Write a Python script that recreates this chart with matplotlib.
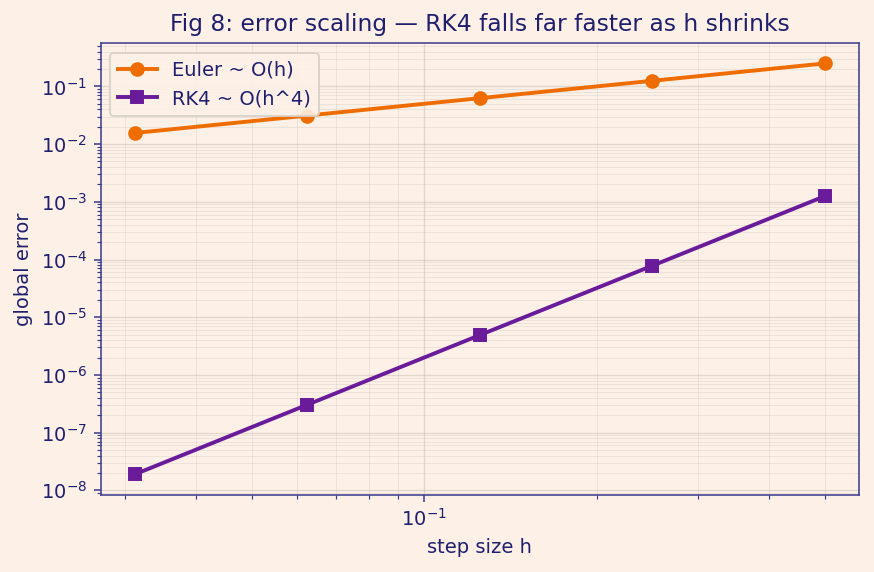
import matplotlib
matplotlib.use("Agg")
import matplotlib.pyplot as plt

# step sizes and global errors
h = [0.5, 0.25, 0.125, 0.0625, 0.03125]
euler_err = [0.25, 0.125, 0.0625, 0.03125, 0.0156]
rk4_err = [1.25e-3, 7.8e-5, 4.9e-6, 3.05e-7, 1.9e-8]

bg = "#fdf1e7"
ink = "#1f1f6e"
spine = "#3b3b8c"

fig, ax = plt.subplots(figsize=(874 / 140, 572 / 140), dpi=140)
fig.patch.set_facecolor(bg)
ax.set_facecolor(bg)

ax.plot(h, euler_err, color="#ef6c00", marker="o", markersize=6.5, linewidth=2, label="Euler ~ O(h)")
ax.plot(h, rk4_err, color="#6a1b9a", marker="s", markersize=6.5, linewidth=2, label="RK4 ~ O(h^4)")

ax.set_xscale("log")
ax.set_yscale("log")
ax.grid(True, which="major", color="#b8b0a8", alpha=0.4, linewidth=0.7)
ax.grid(True, which="minor", color="#c8c0b8", alpha=0.3, linewidth=0.5)

for s in ax.spines.values():
    s.set_color(spine)
ax.tick_params(which="both", colors=spine, labelcolor=ink, labelsize=10)

ax.set_title("Fig 8: error scaling \u2014 RK4 falls far faster as h shrinks", color=ink, fontsize=12)
ax.set_xlabel("step size h", color=ink, fontsize=10)
ax.set_ylabel("global error", color=ink, fontsize=10)

leg = ax.legend(loc="upper left", fontsize=10, facecolor=bg, edgecolor="#d8d0c8", framealpha=0.9)
for t in leg.get_texts():
    t.set_color(ink)

plt.subplots_adjust(left=0.115, right=0.983, top=0.925, bottom=0.135)
plt.savefig("out.png", dpi=140, facecolor=bg)
